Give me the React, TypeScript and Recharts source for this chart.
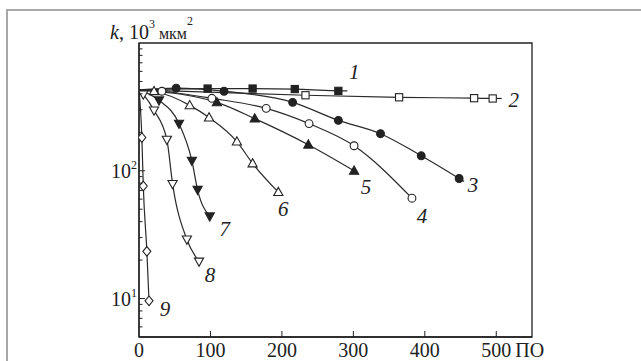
import React from 'react';
import { LineChart, Line, XAxis, YAxis, ReferenceArea } from 'recharts';

// ---------- data ----------
const xTicks = [0, 100, 200, 300, 400, 500];
const yTicks = [6, 7, 8, 9, 10, 20, 30, 40, 50, 60, 70, 80, 90, 100, 200, 300, 400, 500, 600, 700, 800, 900];
const yMajorLabels: Record<number, string> = { 10: '1', 100: '2' };
const xUnit = 'ПО';

const s1 = [[0, 430], [96, 440], [159, 440], [218, 436], [279, 422]];
const s2 = [[0, 430], [233, 390], [364, 376], [469, 370], [495, 368]];
const s3 = [[0, 430], [52, 443], [119, 419], [215, 343], [279, 248], [338, 195], [395, 131], [448, 87]];
const s4 = [[0, 430], [32, 419], [102, 369], [178, 308], [238, 234], [301, 157], [382, 61]];
const s5 = [[0, 430], [109, 343], [162, 256], [237, 160], [301, 100]];
const s6 = [[0, 430], [21, 419], [71, 325], [98, 261], [137, 169], [159, 114], [195, 68]];
const s7 = [[0, 430], [28, 356], [56, 234], [74, 120], [82, 71], [99, 44]];
const s8 = [[0, 430], [6, 396], [21, 297], [39, 175], [47, 79], [67, 29], [84, 19.5]];
const s9 = [[0, 430], [4, 182], [6, 76], [11, 23.4], [14, 9.6]];

const seriesNames = ['1', '2', '3', '4', '5', '6', '7', '8', '9'];
const seriesData = [s1, s2, s3, s4, s5, s6, s7, s8, s9];

// ---------- styles ----------
const INK = '#222';
const FONT = "'Liberation Serif', serif";
const txt = (size: number, italic = false): React.CSSProperties => ({
  fontFamily: FONT,
  fontSize: size,
  fontStyle: italic ? 'italic' : 'normal',
  fill: INK,
});
type Kind = 'sqF' | 'sqO' | 'ciF' | 'ciO' | 'tuF' | 'tuO' | 'tdF' | 'tdO' | 'diO';
const kinds: Kind[] = ['sqF', 'sqO', 'ciF', 'ciO', 'tuF', 'tuO', 'tdF', 'tdO', 'diO'];
// label offset (dx, dy) from the last point, and optional leader length
const labelStyle = [
  { dx: 16, dy: -19, lead: 9 },
  { dx: 21, dy: 2, lead: 9 },
  { dx: 14, dy: 7, lead: 5 },
  { dx: 10, dy: 18, lead: 0 },
  { dx: 12, dy: 16, lead: 0 },
  { dx: 5, dy: 17, lead: 0 },
  { dx: 15, dy: 13, lead: 0 },
  { dx: 11, dy: 14, lead: 0 },
  { dx: 16, dy: 8, lead: 0 },
];

const Marker = ({ cx, cy, kind }: { cx: number; cy: number; kind: Kind }) => {
  const filled = kind.endsWith('F');
  const fill = filled ? INK : '#fff';
  const sw = 1.1;
  const shape = kind.slice(0, 2);
  if (shape === 'sq') return <rect x={cx - 3.6} y={cy - 3.6} width={7.2} height={7.2} fill={fill} stroke={INK} strokeWidth={sw} />;
  if (shape === 'ci') return <circle cx={cx} cy={cy} r={3.9} fill={fill} stroke={INK} strokeWidth={sw} />;
  let pts = '';
  if (shape === 'tu') pts = `${cx},${cy - 4.8} ${cx - 4.6},${cy + 3.4} ${cx + 4.6},${cy + 3.4}`;
  if (shape === 'td') pts = `${cx},${cy + 4.8} ${cx - 4.6},${cy - 3.4} ${cx + 4.6},${cy - 3.4}`;
  if (shape === 'di') pts = `${cx},${cy - 4.8} ${cx + 4},${cy} ${cx},${cy + 4.8} ${cx - 4},${cy}`;
  return <polygon points={pts} fill={fill} stroke={INK} strokeWidth={sw} />;
};

const makeDot = (si: number) => (props: any) => {
  const { cx, cy, index } = props;
  const n = seriesData[si].length;
  if (index === 0 || cx == null || cy == null) return <g key={`d${si}-${index}`} />;
  const ls = labelStyle[si];
  const last = index === n - 1;
  return (
    <g key={`d${si}-${index}`}>
      {last && ls.lead > 0 && <line x1={cx} y1={cy} x2={cx + ls.lead} y2={cy + (si === 2 ? 3 : 0)} stroke={INK} strokeWidth={1.2} />}
      <Marker cx={cx} cy={cy} kind={kinds[si]} />
      {last && (
        <text x={cx + ls.dx} y={cy + ls.dy + 7} textAnchor="middle" style={txt(21, true)}>
          {seriesNames[si]}
        </text>
      )}
    </g>
  );
};

const YTick = (props: any) => {
  const { x, y, payload } = props;
  const v = payload.value as number;
  const major = v === 10 || v === 100;
  return (
    <g>
      <line x1={x} x2={x + (major ? 6 : 3.5)} y1={y} y2={y} stroke={INK} strokeWidth={1} />
      {major && (
        <text x={x - 2} y={y + 7} textAnchor="end" style={txt(20)}>
          10<tspan dy={-9} style={{ fontSize: 12 }}>{yMajorLabels[v]}</tspan>
        </text>
      )}
    </g>
  );
};

const XTick = (props: any) => {
  const { x, y, payload, index } = props;
  const isLast = index === xTicks.length - 1;
  return (
    <g>
      {payload.value !== 0 && <line x1={x} x2={x} y1={y} y2={y - 6} stroke={INK} strokeWidth={1} />}
      <text x={x} y={y + 20} textAnchor="middle" style={txt(20)}>
        {payload.value}
      </text>
      {isLast && (
        <text x={x + 19} y={y + 20} textAnchor="start" style={txt(20)}>
          {xUnit}
        </text>
      )}
    </g>
  );
};

const TitleLabel = (props: any) => {
  const vb = props.viewBox || { x: 79, y: 43, width: 60, height: 294 };
  const x = vb.x + vb.width - 29;
  const y = vb.y - 4;
  return (
    <text x={x} y={y} style={txt(20)}>
      <tspan style={{ fontStyle: 'italic' }}>k</tspan>
      <tspan>, 10</tspan>
      <tspan dy={-11} style={{ fontSize: 12 }}>3</tspan>
      <tspan dy={11} style={{ fontSize: 16 }}> мкм</tspan>
      <tspan dy={-14} style={{ fontSize: 12 }}>2</tspan>
    </text>
  );
};

export default function App() {
  return (
    <div style={{ position: 'absolute', left: 0, top: 0, width: 641, height: 361, overflow: 'hidden', background: '#fff', fontFamily: FONT }}>
      <div
        style={{
          position: 'absolute',
          left: 6,
          top: 9,
          width: 700,
          height: 400,
          borderLeft: '2px solid #a8a8a8',
          borderTop: '2px solid #a8a8a8',
        }}
      />
      <div style={{ position: 'absolute', left: 0, top: 0 }}>
        <LineChart width={641} height={361} margin={{ top: 43, right: 109, bottom: 0, left: 79 }} style={{ fontFamily: FONT }}>
          <XAxis
            type="number"
            dataKey="x"
            domain={[0, 550]}
            ticks={xTicks}
            allowDataOverflow
            height={24}
            tickSize={0}
            tickMargin={0}
            tickLine={false}
            axisLine={{ stroke: INK, strokeWidth: 1.3 }}
            tick={<XTick />}
            interval={0}
          />
          <YAxis
            type="number"
            dataKey="y"
            scale="log"
            domain={[5, 1000]}
            ticks={yTicks}
            allowDataOverflow
            width={60}
            tickSize={0}
            tickMargin={0}
            tickLine={false}
            axisLine={{ stroke: INK, strokeWidth: 1.3 }}
            tick={<YTick />}
            interval={0}
            label={<TitleLabel />}
          />
          <ReferenceArea x1={0} x2={550} y1={5} y2={1000} fill="none" stroke={INK} strokeWidth={1.3} ifOverflow="visible" />
          {seriesData.map((s, si) => (
            <Line
              key={si}
              data={s.map(([x, y]) => ({ x, y }))}
              dataKey="y"
              type="monotone"
              stroke="#2a2a2a"
              strokeWidth={1.2}
              dot={makeDot(si)}
              activeDot={false}
              isAnimationActive={false}
            />
          ))}
        </LineChart>
      </div>
    </div>
  );
}
